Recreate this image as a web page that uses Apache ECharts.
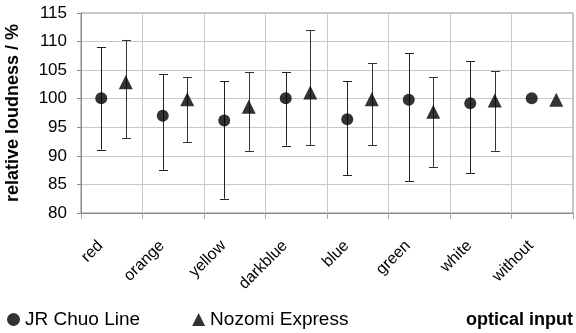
<!DOCTYPE html>
<html><head><meta charset="utf-8">
<script src="https://cdn.jsdelivr.net/npm/echarts@6/dist/echarts.min.js"></script>
<style>html,body{margin:0;padding:0;background:#fff}#c{width:576px;height:333px}</style>
</head><body><div id="c"></div>
<script>
var categories = ['red','orange','yellow','darkblue','blue','green','white','without'];
var chuoMean = [100.1, 97.0, 96.2, 100.1, 96.4, 99.8, 99.2, 100.1];
var chuoLow  = [91.1, 87.5, 82.5, 91.8, 86.6, 85.6, 87.0, null];
var chuoHigh = [109.0, 104.3, 103.1, 104.7, 103.1, 108.0, 106.6, null];
var nozoMean = [102.9, 99.9, 98.6, 101.1, 99.9, 97.7, 99.7, 99.8];
var nozoLow  = [93.1, 92.4, 90.9, 91.9, 91.9, 88.1, 90.9, null];
var nozoHigh = [110.3, 103.8, 104.6, 112.0, 106.2, 103.8, 104.8, null];
var yTicks = [80, 115, 5];

function errData(lo, hi) {
  var d = [];
  for (var i = 0; i < categories.length; i++) if (lo[i] != null) d.push([i, lo[i], hi[i]]);
  return d;
}
function errSeries(lo, hi, dx, color) {
  return {
    type: 'custom', silent: true, z: 1,
    data: errData(lo, hi),
    encode: {x: 0, y: [1, 2]},
    renderItem: function (params, api) {
      var a = api.coord([api.value(0), api.value(1)]);
      var b = api.coord([api.value(0), api.value(2)]);
      var x = Math.round(a[0] + dx) + 0.5, w = 4.5;
      var st = {stroke: color, lineWidth: 1};
      return {type: 'group', children: [
        {type: 'line', shape: {x1: x, y1: a[1], x2: x, y2: b[1]}, style: st},
        {type: 'line', shape: {x1: x - w, y1: Math.round(a[1]) + 0.5, x2: x + w, y2: Math.round(a[1]) + 0.5}, style: st},
        {type: 'line', shape: {x1: x - w, y1: Math.round(b[1]) + 0.5, x2: x + w, y2: Math.round(b[1]) + 0.5}, style: st}
      ]};
    }
  };
}
var chart = echarts.init(document.getElementById('c'), null, {renderer: 'canvas'});
var F = 'Liberation Sans, Arial, sans-serif';
chart.setOption({
  animation: false,
  textStyle: {fontFamily: F},
  grid: {left: 81, right: 3, top: 13, bottom: 120, show: true, borderColor: '#8a8a8a', borderWidth: 1,
         containLabel: false, outerBoundsMode: 'none'},
  legend: {
    left: 2, bottom: -1, itemGap: 52, itemWidth: 13, itemHeight: 13,
    textStyle: {fontSize: 19, color: '#000', fontFamily: F},
    data: [{name: 'JR Chuo Line', icon: 'circle'}, {name: 'Nozomi Express', icon: 'triangle'}]
  },
  graphic: [{type: 'text', right: 3, bottom: 4, style: {text: 'optical input', font: 'bold 18px ' + F, fill: '#000'}}],
  xAxis: {
    type: 'category', data: categories, boundaryGap: true,
    axisLine: {lineStyle: {color: '#8a8a8a'}},
    axisTick: {show: true, length: 6, lineStyle: {color: '#aaa'}},
    splitLine: {show: true, lineStyle: {color: '#c8c8c8'}},
    axisLabel: {rotate: 45, fontSize: 16, color: '#000', margin: 19, padding: [0, 16, 0, 0], interval: 0}
  },
  yAxis: {
    type: 'value', min: yTicks[0], max: yTicks[1], interval: yTicks[2],
    name: 'relative loudness / %', nameLocation: 'middle', nameGap: 59,
    nameTextStyle: {fontSize: 18, fontWeight: 'bold', color: '#000'},
    axisLine: {show: true, lineStyle: {color: '#8a8a8a'}},
    axisTick: {show: true, length: 4, lineStyle: {color: '#8a8a8a'}},
    splitLine: {show: true, lineStyle: {color: '#c8c8c8'}},
    axisLabel: {fontSize: 17, color: '#000', margin: 14}
  },
  series: [
    errSeries(chuoLow, chuoHigh, -10.5, '#222'),
    errSeries(nozoLow, nozoHigh, 14, '#333'),
    {name: 'JR Chuo Line', type: 'scatter', symbol: 'circle', symbolSize: 12, symbolOffset: [-10.5, 0],
     itemStyle: {color: '#000'}, z: 3, data: chuoMean},
    {name: 'Nozomi Express', type: 'scatter', symbol: 'triangle', symbolSize: 14, symbolOffset: [14, 0],
     itemStyle: {color: '#000'}, z: 3, data: nozoMean}
  ]
});
</script></body></html>
